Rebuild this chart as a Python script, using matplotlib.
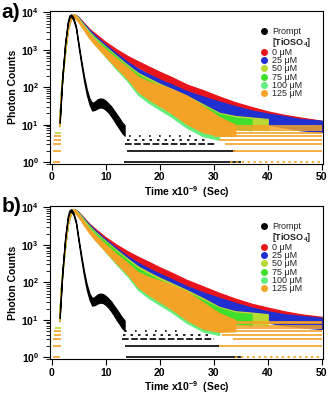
import numpy as np
import matplotlib
matplotlib.use('Agg')
import matplotlib.pyplot as plt
from matplotlib.lines import Line2D
from matplotlib.ticker import FixedLocator, FixedFormatter, LogLocator, NullFormatter

plt.rcParams['font.family'] = 'Liberation Sans'
plt.rcParams['mathtext.fontset'] = 'custom'
plt.rcParams['mathtext.bf'] = 'Liberation Sans:bold'
plt.rcParams['mathtext.rm'] = 'Liberation Sans'
plt.rcParams['mathtext.default'] = 'bf'

nan = np.nan

# time grid (ns) for the decay curves
t = [1.4, 1.7, 2.0, 2.5, 3.0, 3.5, 4.0, 4.5, 5, 6, 7, 8, 10, 12, 14, 16, 18, 20,
     22, 25, 28, 31, 34, 37, 40, 43, 46, 50]
# log half-width of the scatter band
spread = [0.03, 0.03, 0.03, 0.03, 0.03, 0.03, 0.03, 0.03, 0.03, 0.035, 0.04, 0.045,
          0.05, 0.06, 0.07, 0.08, 0.09, 0.10, 0.11, 0.12, 0.13, 0.14, 0.15, 0.15,
          0.15, 0.15, 0.15, 0.15]
spread_wide = [0.04, 0.04, 0.04, 0.04, 0.04, 0.04, 0.04, 0.04, 0.04, 0.05, 0.06, 0.07,
               0.09, 0.12, 0.15, 0.20, 0.24, 0.28, 0.32, 0.38, 0.35, 0.25, 0.15, 0.15,
               0.15, 0.15, 0.15, 0.15]

# prompt (instrument response)
tp = [1.5, 2.0, 2.5, 3.0, 3.3, 3.6, 4.0, 4.5, 5.0, 5.5, 6.0, 6.5, 7.0, 7.5, 8.0, 8.5,
      9.0, 9.5, 10, 10.5, 11, 11.5, 12, 12.5, 13, 13.5]
prompt = [12, 200, 1500, 5500, 7800, 8300, 7000, 4000, 1300, 450, 170, 75, 42, 30, 32,
          36, 38, 37, 33, 28, 23, 18, 14, 11, 8.5, 7]
prompt_spread = [0.03, 0.03, 0.03, 0.03, 0.03, 0.03, 0.03, 0.03, 0.04, 0.05, 0.06, 0.07,
                 0.08, 0.10, 0.11, 0.12, 0.12, 0.12, 0.12, 0.12, 0.13, 0.13, 0.14, 0.14,
                 0.14, 0.14]

labels = ['0 \u03bcM', '25 \u03bcM', '50 \u03bcM', '75 \u03bcM', '100 \u03bcM', '125 \u03bcM']
colors = ['#e8141c', '#1f2fd0', '#b9d934', '#3fe02b', '#62ef7e', '#f5a326']

# panel a counts
a_series = [
    [10, 60, 200, 1000, 3800, 7000, 8300, 8000, 7000, 4800, 3300, 2500, 1450, 900, 590,
     410, 290, 205, 150, 90, 62, 41, 28, 21, 16, 13, 11, 9],
    [10, 60, 200, 1000, 3800, 7000, 8300, 7900, 6800, 4500, 3100, 2200, 1220, 700, 410,
     260, 180, 128, 95, 60, 42, 30, 22, 17, 14, 12, 10, 9],
    [10, 60, 200, 1000, 3800, 7000, 8300, 7700, 6500, 4200, 2800, 1950, 1080, 600, 340,
     200, 140, 98, 72, 45, 26, 15, 12, 11, 10, nan, nan, nan],
    [10, 60, 200, 1000, 3800, 7000, 8300, 7600, 6400, 4100, 2700, 1850, 1030, 560, 310,
     180, 125, 88, 64, 40, 24, 14, 11, 10, nan, nan, nan, nan],
    [10, 60, 200, 1000, 3800, 7000, 8300, 7500, 6200, 3900, 2500, 1700, 800, 400, 210,
     100, 66, 48, 35, 20, 11, 7, nan, nan, nan, nan, nan, nan],
    [10, 60, 200, 1000, 3800, 7000, 8300, 7400, 6000, 3700, 2350, 1600, 820, 440, 240,
     120, 82, 60, 44, 25, 14, 9, 7, nan, nan, nan, nan, nan],
]
# panel b counts
b_series = [
    [10, 60, 200, 1000, 3800, 7000, 8300, 8000, 7000, 4800, 3300, 2450, 1420, 880, 580,
     400, 285, 200, 145, 88, 58, 38, 26, 19, 15, 12, 10, 8.5],
    [10, 60, 200, 1000, 3800, 7000, 8300, 7900, 6800, 4550, 3150, 2250, 1250, 720, 430,
     275, 190, 135, 98, 60, 40, 28, 20, 15, 12, 10, 9, 8],
    [10, 60, 200, 1000, 3800, 7000, 8300, 7800, 6600, 4300, 2900, 2050, 1130, 640, 370,
     220, 150, 105, 76, 47, 28, 16, 12, 11, 10, nan, nan, nan],
    [10, 60, 200, 1000, 3800, 7000, 8300, 7700, 6500, 4200, 2800, 1950, 1060, 590, 330,
     195, 132, 92, 67, 42, 25, 15, 11, 10, nan, nan, nan, nan],
    [10, 60, 200, 1000, 3800, 7000, 8300, 7500, 6200, 3900, 2500, 1700, 800, 400, 210,
     100, 66, 48, 35, 20, 11, 7, nan, nan, nan, nan, nan, nan],
    [10, 60, 200, 1000, 3800, 7000, 8300, 7400, 6000, 3700, 2350, 1600, 820, 430, 235,
     118, 80, 58, 42, 24, 13, 8.5, 7, nan, nan, nan, nan, nan],
]

# integer count rows at low intensity: level, start, end
a_black_rows = ([1, 2, 3, 4, 5], [13.4, 14.0, 13.6, 14.0, 14.3], [35, 34, 30.5, 29, 27])
a_orange_rows = ([1, 2, 3, 4, 5, 6, 7, 8, 9],
                 [33, 33.5, 32, 31, 30, 29.5, 29, 28, 27])
a_pre_rows = ([1, 2, 3, 4, 5, 6], [0.3, 0.3, 0.3, 0.4, 0.5, 0.6], [1.6, 1.7, 1.7, 1.8, 1.8, 1.7])
b_black_rows = ([1, 2, 3, 4, 5], [13.8, 13.5, 13.0, 13.2, 13.5], [35, 31, 30, 29, 24])
b_orange_rows = ([1, 2, 3, 4, 5, 6, 7, 8, 9],
                 [34, 31, 33.5, 31.5, 32, 32, 31, 30, 29])
b_pre_rows = ([1, 2, 3, 4, 5, 6], [0.3, 0.3, 0.3, 0.4, 0.5, 0.6], [1.6, 1.7, 1.7, 1.8, 1.8, 1.7])
t_end = 50

xticks = [0, 10, 20, 30, 40, 50]
yticks = [1, 10, 100, 1000, 10000]
ytick_labels = [r'$\mathbf{10^{0}}$', r'$\mathbf{10^{1}}$', r'$\mathbf{10^{2}}$',
                r'$\mathbf{10^{3}}$', r'$\mathbf{10^{4}}$']


def band(ax, x, y, s, color, z):
    y = np.array(y, dtype=float)
    s = np.array(s[:len(y)], dtype=float)
    up = y * 10 ** s
    lo = y / 10 ** s
    ax.fill_between(x, lo, up, color=color, lw=0.9, edgecolor=color, zorder=z)


def draw_panel(ax, series, black_rows, orange_rows, pre_rows):
    for i, (vals, c) in enumerate(zip(series, colors)):
        s = spread_wide if i >= 4 else spread
        band(ax, t, vals, s, c, 2 + i * 0.1)
    band(ax, tp, prompt, prompt_spread, 'black', 3)
    lv, st, en = black_rows
    styles = ['-', '-', (0, (4, 1.5)), (0, (1.5, 3)), (0, (1, 5))]
    for l, a, b, ls in zip(lv, st, en, styles):
        ax.hlines(l, a, b, colors='black', lw=1.2, linestyles=ls, zorder=2.5)
    lv, st = orange_rows
    for l, a in zip(lv, st):
        ls = (0, (1.5, 2)) if l == 1 else '-'
        ax.hlines(l, a, t_end, colors=colors[5], lw=1.2, linestyles=ls, zorder=2.8)
    lv, st, en = pre_rows
    for l, a, b in zip(lv, st, en):
        c = colors[2] if l == 6 else colors[5]
        ax.hlines(l, a, b, colors=c, lw=1.2, zorder=2.8)

    ax.set_yscale('log')
    ax.set_xlim(-0.3, 50.3)
    ax.set_ylim(0.885, 11100)
    ax.xaxis.set_major_locator(FixedLocator(xticks))
    ax.set_xticklabels([str(v) for v in xticks], fontweight='bold', fontsize=7.5)
    ax.yaxis.set_major_locator(FixedLocator(yticks))
    ax.yaxis.set_major_formatter(FixedFormatter(ytick_labels))
    ax.yaxis.set_minor_locator(LogLocator(base=10, subs=np.arange(2, 10)))
    ax.yaxis.set_minor_formatter(NullFormatter())
    ax.tick_params(axis='x', which='major', direction='out', length=4, width=0.8,
                   labelsize=7.5, pad=2)
    ax.tick_params(axis='y', which='major', direction='out', length=5, width=0.8,
                   labelsize=7.5, pad=3)
    ax.tick_params(axis='y', which='minor', direction='out', length=3, width=0.6)
    for sp in ax.spines.values():
        sp.set_linewidth(0.8)
    ax.set_xlabel('Time x10$^{-9}$  (Sec)', fontweight='bold', fontsize=7.5, labelpad=1)
    ax.set_ylabel('Photon Counts', fontweight='bold', fontsize=7.5, labelpad=2)

    handles = [Line2D([], [], ls='none', marker='o', ms=4, color='black'),
               Line2D([], [], ls='none')]
    names = ['Prompt', '[TiOSO$_4$]']
    for lab, c in zip(labels, colors):
        handles.append(Line2D([], [], ls='none', marker='o', ms=4, color=c))
        names.append(lab)
    leg = ax.legend(handles, names, loc='upper left', bbox_to_anchor=(0.755, 0.915),
                    frameon=False, fontsize=6.5, handlelength=0.8, handletextpad=0.5,
                    labelspacing=-0.08, borderaxespad=0)
    for i, txt in enumerate(leg.get_texts()):
        txt.set_color('#222222')
        if i == 1:
            txt.set_fontweight('bold')


fig = plt.figure(figsize=(3.29, 3.95), dpi=100)
ax_a = fig.add_axes([0.152, 0.5848, 0.831, 0.388])
ax_b = fig.add_axes([0.152, 0.0904, 0.831, 0.389])
draw_panel(ax_a, a_series, a_black_rows, a_orange_rows, a_pre_rows)
draw_panel(ax_b, b_series, b_black_rows, b_orange_rows, b_pre_rows)
fig.text(0.005, 0.992, 'a)', fontsize=15, fontweight='bold', va='top')
fig.text(0.005, 0.502, 'b)', fontsize=15, fontweight='bold', va='top')

fig.savefig('out.png', dpi=100)
